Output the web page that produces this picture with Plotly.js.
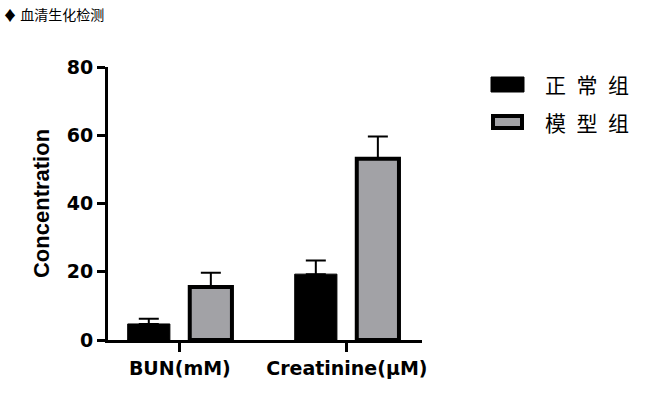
<!DOCTYPE html>
<html>
<head>
<meta charset="utf-8">
<script src="https://cdn.plot.ly/plotly-3.0.1.min.js"></script>
<style>html,body{margin:0;padding:0;background:#fff;}#chart{width:657px;height:420px;}</style>
</head>
<body>
<div id="chart"></div>
<script>
// ---- data ----
const categories = ['BUN(mM)', 'Creatinine(μM)'];
const seriesNames = ['正\u2002常\u2002组', '模\u2002型\u2002组'];
const normalValues = [4.7, 19.3];
const normalErrors = [1.5, 4.0];
const modelValues = [15.5, 53.1];
const modelErrors = [4.2, 6.5];
const yTicks = [0, 20, 40, 60, 80];
const chartTitle = '♦ 血清生化检测';
const yTitle = 'Concentration';

// ---- layout helpers (pixel -> paper) ----
const L = 108, R = 422, T = 67, B = 340;
const px = v => (v - L) / (R - L);
const py = v => (B - v) / (B - T);

const errStyle = {type: 'data', symmetric: false, color: '#000', thickness: 2, width: 10};

const traces = [
  {
    type: 'bar', name: seriesNames[0], x: categories, y: normalValues,
    marker: {color: '#000000', line: {color: '#000', width: 1}},
    error_y: Object.assign({array: normalErrors, arrayminus: normalErrors.map(() => 0)}, errStyle),
    showlegend: false
  },
  {
    type: 'bar', name: seriesNames[1], x: categories, y: modelValues,
    marker: {color: '#a2a2a6', line: {color: '#000', width: 4}},
    error_y: Object.assign({array: modelErrors, arrayminus: modelErrors.map(() => 0)}, errStyle),
    showlegend: false
  }
];

const font = 'DejaVu Sans, Arial, sans-serif';
const cjk = 'Noto Sans CJK SC, sans-serif';
const layout = {
  width: 657, height: 420,
  margin: {l: L, r: 657 - R, t: T, b: 420 - B, pad: 0},
  paper_bgcolor: '#fff', plot_bgcolor: '#fff',
  barmode: 'group', bargap: 0.257, bargroupgap: 0.32,
  title: {
    text: chartTitle, x: 3 / 657, xanchor: 'left', xref: 'container',
    y: 1 - 15 / 420, yanchor: 'middle', yref: 'container',
    font: {family: cjk, size: 14, color: '#000'}
  },
  xaxis: {
    type: 'category', range: [-0.43, 1.45],
    showline: true, linecolor: '#000', linewidth: 3,
    ticks: 'outside', ticklen: 9, tickwidth: 3, tickcolor: '#000',
    showgrid: false, zeroline: false,
    tickfont: {family: font, size: 19, color: '#000', weight: 'bold'}
  },
  yaxis: {
    range: [0, 80], tickvals: yTicks, ticktext: yTicks.map(String),
    showline: true, linecolor: '#000', linewidth: 3,
    ticks: 'outside', ticklen: 8, tickwidth: 3, tickcolor: '#000',
    showgrid: false, zeroline: false,
    tickfont: {family: font, size: 19, color: '#000', weight: 'bold'},
    title: {text: yTitle, standoff: 12, font: {family: 'Liberation Sans, Arial, sans-serif', size: 22, color: '#000', weight: 'bold'}}
  },
  shapes: [
    {type: 'rect', xref: 'paper', yref: 'paper', x0: px(491), x1: px(524), y0: py(92), y1: py(77),
     fillcolor: '#000', line: {color: '#000', width: 1}},
    {type: 'rect', xref: 'paper', yref: 'paper', x0: px(493), x1: px(522), y0: py(128), y1: py(116),
     fillcolor: '#a2a2a6', line: {color: '#000', width: 4}}
  ],
  annotations: [
    {xref: 'paper', yref: 'paper', x: px(543), y: py(84), xanchor: 'left', yanchor: 'middle',
     text: seriesNames[0], showarrow: false, font: {family: cjk, size: 21, color: '#000'}},
    {xref: 'paper', yref: 'paper', x: px(543), y: py(122), xanchor: 'left', yanchor: 'middle',
     text: seriesNames[1], showarrow: false, font: {family: cjk, size: 21, color: '#000'}}
  ]
};

Plotly.newPlot('chart', traces, layout, {displayModeBar: false, staticPlot: true});
</script>
</body>
</html>
